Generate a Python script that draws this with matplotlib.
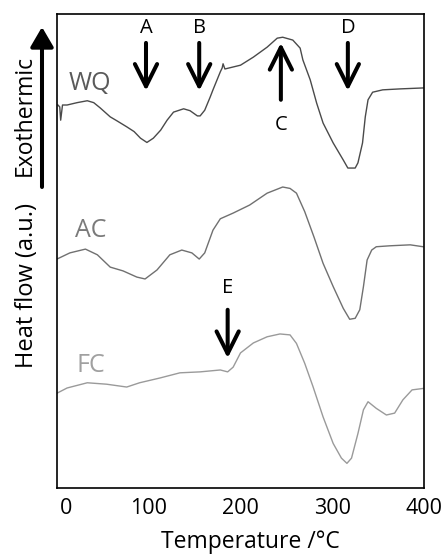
import numpy as np
import matplotlib.pyplot as plt
from matplotlib.patches import FancyArrowPatch
from matplotlib.transforms import ScaledTranslation

plt.rcParams['font.family'] = ['Open Sans', 'DejaVu Sans']

# DSC traces, heat flow in arbitrary units (curves offset vertically)
wq_temp = [1, 3, 4, 6, 11, 22, 33, 40, 47, 58, 65, 76, 84, 91, 98, 105, 113,
           120, 127, 138, 145, 153, 156, 161, 167, 170, 178, 180, 181, 183,
           200, 214, 229, 240, 246, 257, 265, 268, 276, 283, 290, 301, 312,
           317, 325, 328, 333, 336, 339, 344, 355, 374, 399]
wq_flow = [80.8, 80.4, 77.6, 80.8, 80.8, 81.3, 81.7, 81.3, 80.2, 78.3, 77.5,
           76.2, 75.2, 73.8, 72.9, 73.8, 75.5, 77.6, 79.3, 80.0, 79.6, 78.5,
           78.5, 79.7, 82.5, 84.0, 87.8, 88.6, 89.5, 88.4, 89.2, 90.9, 93.0,
           94.9, 95.1, 94.5, 92.8, 90.3, 86.1, 81.2, 77.0, 72.8, 69.2, 67.5,
           67.5, 68.6, 72.8, 78.3, 81.9, 83.5, 84.0, 84.2, 84.4]

ac_temp = [0, 14, 31, 44, 58, 72, 87, 96, 109, 123, 136, 147, 155, 161, 170,
           178, 192, 210, 229, 246, 254, 261, 270, 280, 290, 301, 312, 319,
           325, 330, 334, 338, 343, 348, 363, 385, 399]
ac_flow = [48.3, 49.6, 50.4, 49.2, 46.6, 45.8, 44.5, 44.1, 46.0, 49.2, 50.2,
           49.6, 48.3, 49.6, 54.4, 56.8, 58.0, 59.7, 62.2, 63.5, 63.2, 62.2,
           58.3, 53.0, 47.4, 42.5, 37.9, 35.6, 35.8, 37.6, 42.5, 48.1, 50.2,
           50.9, 51.1, 51.3, 50.9]

fc_temp = [0, 11, 33, 54, 76, 90, 112, 134, 156, 178, 186, 192, 200, 214, 229,
           243, 254, 261, 270, 279, 290, 301, 310, 316, 321, 328, 334, 339,
           348, 359, 368, 377, 387, 399]
fc_flow = [20.0, 21.1, 22.2, 21.9, 21.3, 22.2, 23.2, 24.3, 24.5, 24.9, 24.5,
           25.5, 28.5, 30.6, 31.9, 32.5, 32.3, 30.5, 26.3, 21.4, 15.0, 9.4,
           6.3, 5.2, 6.3, 11.5, 16.5, 18.2, 16.8, 15.4, 15.8, 18.6, 20.7, 21.0]

# event markers: label, temperature, direction
events = ['A', 'B', 'C', 'D', 'E']
event_temp = [97, 155, 244, 317, 186]
event_dir = ['down', 'down', 'up', 'down', 'down']

W, H = 442, 556
fig = plt.figure(figsize=(W / 100, H / 100), dpi=100)
ax = fig.add_axes([57 / W, 68 / H, 367 / W, 474 / H])

ax.plot(wq_temp, wq_flow, color='#4a4a4a', lw=1.0)
ax.plot(ac_temp, ac_flow, color='#707070', lw=1.0)
ax.plot(fc_temp, fc_flow, color='#9a9a9a', lw=1.0)

ax.text(36, 85.4, 'WQ', color='#5a5a5a', fontsize=18, ha='center', va='center')
ax.text(37, 54.4, 'AC', color='#7a7a7a', fontsize=18, ha='center', va='center')
ax.text(37, 25.9, 'FC', color='#a0a0a0', fontsize=18, ha='center', va='center')

arrow_kw = dict(arrowstyle='->,head_length=0.8,head_width=0.4', lw=2.9,
                color='black', mutation_scale=20, shrinkA=0, shrinkB=0)
for lab, t, d in zip(events, event_temp, event_dir):
    if lab == 'E':
        tail, tip, ty = 37.6, 27.4, 42.2
    elif d == 'down':
        tail, tip, ty = 93.9, 83.8, 97.0
    else:
        tail, tip, ty = 81.9, 93.9, 76.6
    ax.annotate('', xy=(t, tip), xytext=(t, tail), arrowprops=arrow_kw)
    ax.text(t, ty, lab, fontsize=14.5, ha='center', va='center')

ax.set_xlim(0, 400)
ax.set_ylim(0, 100)
ax.set_xticks([0, 100, 200, 300, 400])
ax.set_yticks([])
ax.tick_params(axis='x', length=0, labelsize=15.5, pad=7)
# the zero label sits a little right of the axis edge in the original
zero = ax.get_xticklabels()[0]
zero.set_transform(zero.get_transform() +
                   ScaledTranslation(0.09, 0, fig.dpi_scale_trans))
for s in ax.spines.values():
    s.set_linewidth(1.2)
ax.set_xlabel('Temperature /°C', fontsize=16.5)
ax.xaxis.set_label_coords((250 - 57) / 367, -(530 - 488) / 474)

# exothermic direction arrow and y labels
fig.patches.append(FancyArrowPatch(
    (42 / W, 1 - 187 / H), (42 / W, 1 - 27 / H), transform=fig.transFigure,
    arrowstyle='-|>,head_length=0.6,head_width=0.35', mutation_scale=20,
    lw=2.9, color='black', shrinkA=0, shrinkB=0))
fig.text(25 / W, 1 - 115 / H, 'Exothermic', rotation=90, fontsize=16.5,
         ha='center', va='center')
fig.text(27 / W, 1 - 285 / H, 'Heat flow (a.u.)', rotation=90, fontsize=17,
         ha='center', va='center')

fig.savefig('out.png', dpi=100)
